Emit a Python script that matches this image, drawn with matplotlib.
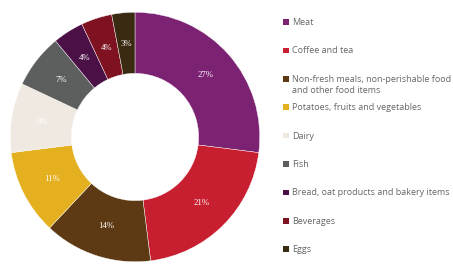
import matplotlib.pyplot as plt
from matplotlib.patches import Rectangle

categories = ["Meat", "Coffee and tea",
              "Non-fresh meals, non-perishable food\nand other food items",
              "Potatoes, fruits and vegetables", "Dairy", "Fish",
              "Bread, oat products and bakery items", "Beverages", "Eggs"]
shares = [27, 21, 14, 11, 9, 7, 4, 4, 3]
colors = ["#7b2273", "#c81f30", "#5e3a14", "#e5b020", "#efe9e1",
          "#5d5f5f", "#4b1046", "#7e1221", "#3b2a12"]

fig = plt.figure(figsize=(4.53, 2.66), dpi=100)
ax = fig.add_axes([9/453, 3/266, 252/453, 252/266])

wedges, texts, autotexts = ax.pie(
    shares, colors=colors, startangle=90, counterclock=False,
    radius=1, wedgeprops=dict(width=0.49, edgecolor="white", linewidth=0.3),
    autopct="%d%%", pctdistance=0.75,
    textprops=dict(color="white", fontsize=6.3, family="Liberation Serif"))
ax.set_xlim(-1.01, 1.01)
ax.set_ylim(-1.01, 1.01)
ax.set_aspect("equal")

# legend drawn by hand, one slot per category
for i, (lab, col) in enumerate(zip(categories, colors)):
    ypix = 22 + i * 28.4
    y = 1 - ypix / 266
    fig.patches.append(Rectangle((283/453, y - 2.8/266), 5.5/453, 5.5/266,
                                 transform=fig.transFigure, facecolor=col,
                                 edgecolor="none"))
    fig.text(292/453, y + 4/266, lab, fontsize=6.5, color="#666666",
             va="top", ha="left", family="Open Sans", linespacing=1.35)

fig.savefig("out.png", dpi=100)
